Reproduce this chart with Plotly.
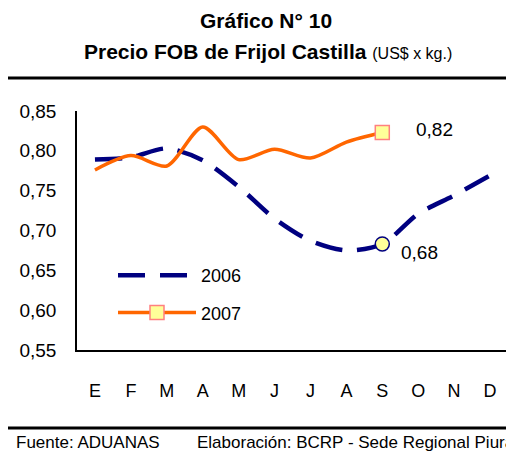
import plotly.graph_objects as go

months = ["E", "F", "M", "A", "M", "J", "J", "A", "S", "O", "N", "D"]
y2006 = [0.789, 0.792, 0.803, 0.788, 0.755, 0.715, 0.687, 0.675, 0.683, 0.721, 0.744, 0.769]
y2007 = [0.776, 0.794, 0.781, 0.830, 0.789, 0.802, 0.791, 0.811, 0.823]
last_idx = 8  # S

FONT = "Liberation Sans, Arial, sans-serif"
NAVY = "#000080"
ORANGE = "#FF6600"

# the page body has an 8px margin; work in reference-pixel coords and offset
OFF = 8
W, H = 514 - OFF, 455 - OFF
L, R, T, B = 77 - OFF, 508 - OFF, 111 - OFF, 350 - OFF

def px_x(px):
    return (px - OFF - L) / (R - L)

def px_y(py):
    return (B - (py - OFF)) / (B - T)

def fmt(v):
    return f"{v:.2f}".replace(".", ",")

xs = list(range(len(months)))

fig = go.Figure()

fig.add_trace(go.Scatter(
    x=xs, y=y2006, mode="lines",
    line=dict(color=NAVY, width=4.5, dash="27px,15px", shape="spline", smoothing=0.8),
    showlegend=False, hoverinfo="skip"))
fig.add_trace(go.Scatter(
    x=xs[:len(y2007)], y=y2007, mode="lines",
    line=dict(color=ORANGE, width=3.5, shape="spline", smoothing=0.8),
    showlegend=False, hoverinfo="skip"))

# end markers
fig.add_trace(go.Scatter(
    x=[xs[last_idx]], y=[y2006[last_idx]], mode="markers",
    marker=dict(symbol="circle", size=14, color="#FFFF99", line=dict(color=NAVY, width=1.5)),
    showlegend=False))
fig.add_trace(go.Scatter(
    x=[xs[last_idx]], y=[y2007[last_idx]], mode="markers",
    marker=dict(symbol="square", size=14, color="#FFFF99", line=dict(color="#FF8080", width=1.5)),
    showlegend=False))

# legend entries
fig.add_trace(go.Scatter(
    x=[None], y=[None], mode="lines", name="2006", legendgroup="a",
    line=dict(color=NAVY, width=4.5, dash="27px,15px")))
fig.add_trace(go.Scatter(
    x=[None], y=[None], mode="lines+markers", name="2007", legendgroup="b",
    line=dict(color=ORANGE, width=3.5),
    marker=dict(symbol="square", size=14, color="#FFFF99", line=dict(color="#FF8080", width=1.5))))

lbl_font = dict(family=FONT, size=19, color="#000")

fig.update_layout(
    width=W, height=H,
    margin=dict(l=L, r=W - R, t=T, b=H - B, pad=0),
    paper_bgcolor="white", plot_bgcolor="white",
    separators=",.",
    font=dict(family=FONT, size=18, color="#000"),
    showlegend=True,
    legend=dict(x=px_x(113), y=px_y(257), xanchor="left", yanchor="top",
                bgcolor="rgba(0,0,0,0)", itemwidth=78, traceorder="grouped",
                tracegroupgap=11, font=dict(family=FONT, size=18)),
    xaxis=dict(range=[-0.5, 11.5], tickvals=xs, ticktext=months, showgrid=False,
               showline=True, linecolor="#000", linewidth=1.5, ticks="",
               ticklabelstandoff=24, zeroline=False, fixedrange=True,
               tickfont=dict(family=FONT, size=18)),
    yaxis=dict(range=[0.55, 0.85], dtick=0.05, tickformat=".2f", showgrid=False,
               showline=True, linecolor="#000", linewidth=1.5, ticks="",
               ticklabelstandoff=15, zeroline=False,
               tickfont=dict(family=FONT, size=19)),
    shapes=[
        dict(type="line", xref="paper", yref="paper", x0=px_x(8), x1=px_x(514), y0=px_y(78), y1=px_y(78),
             line=dict(color="#000", width=3)),
        dict(type="line", xref="paper", yref="paper", x0=px_x(8), x1=px_x(514), y0=px_y(428), y1=px_y(428),
             line=dict(color="#000", width=3)),
    ],
    annotations=[
        dict(text=fmt(y2007[last_idx]), x=xs[last_idx], y=y2007[last_idx], xref="x", yref="y",
             xanchor="left", yanchor="middle", xshift=32, yshift=3, showarrow=False, font=lbl_font),
        dict(text=fmt(y2006[last_idx]), x=xs[last_idx], y=y2006[last_idx], xref="x", yref="y",
             xanchor="left", yanchor="middle", xshift=17, yshift=-8, showarrow=False, font=lbl_font),
        dict(text="<b>Gráfico N° 10</b>", xref="paper", yref="paper", x=px_x(266), y=px_y(20),
             xanchor="center", yanchor="middle", showarrow=False, font=dict(family=FONT, size=21)),
        dict(text="<b>Precio FOB de Frijol Castilla</b> <span style='font-size:16px'>(US$ x kg.)</span>",
             xref="paper", yref="paper", x=px_x(268), y=px_y(52),
             xanchor="center", yanchor="middle", showarrow=False, font=dict(family=FONT, size=21)),
        dict(text="Fuente: ADUANAS", xref="paper", yref="paper", x=px_x(14), y=px_y(442),
             xanchor="left", yanchor="middle", showarrow=False, font=dict(family=FONT, size=17)),
        dict(text="Elaboración: BCRP - Sede Regional Piura", xref="paper", yref="paper", x=px_x(195), y=px_y(442),
             xanchor="left", yanchor="middle", showarrow=False, font=dict(family=FONT, size=17)),
    ],
)

fig.write_html("out.html")
